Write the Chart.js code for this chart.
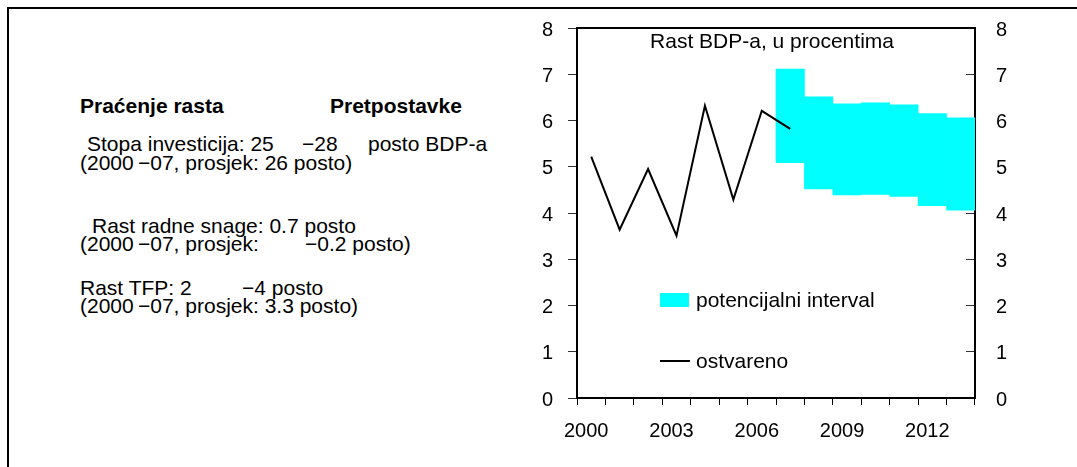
<!DOCTYPE html>
<html>
<head>
<meta charset="utf-8">
<script src="https://cdn.jsdelivr.net/npm/chart.js@4.4.1/dist/chart.umd.min.js"></script>
<style>
  body { margin: 0; background: #fff; width: 1077px; height: 467px; overflow: hidden; position: relative;
         font-family: "Liberation Sans", Arial, sans-serif; }
  #okvir { position: absolute; left: 7px; top: 7px; right: -10px; bottom: -10px;
           border-left: 2px solid #000; border-top: 2px solid #000; }
  #graf { position: absolute; left: 0; top: 0; }
  .t { position: absolute; font-size: 21px; line-height: 21px; white-space: pre; color: #000; }
  .b { font-weight: bold; }
</style>
</head>
<body>
<div id="okvir"></div>

<!-- lijevi tekst -->
<div class="t b" style="left:80px; top:95px;">Praćenje rasta</div>
<div class="t b" style="left:330px; top:95px;">Pretpostavke</div>

<div class="t" style="left:87px; top:133px;">Stopa investicija: 25</div>
<div class="t" style="left:302px; top:133px;">−28</div>
<div class="t" style="left:368px; top:133px;">posto BDP-a</div>
<div class="t" style="left:80px; top:152px;">(2000</div>
<div class="t" style="left:138px; top:152px;">−07, prosjek: 26 posto)</div>

<div class="t" style="left:92px; top:215px;">Rast radne snage: 0.7 posto</div>
<div class="t" style="left:80px; top:233px;">(2000</div>
<div class="t" style="left:138px; top:233px;">−07, prosjek:</div>
<div class="t" style="left:305px; top:233px;">−0.2 posto)</div>

<div class="t" style="left:80px; top:277px;">Rast TFP: 2</div>
<div class="t" style="left:242px; top:277px;">−4 posto</div>
<div class="t" style="left:80px; top:295px;">(2000</div>
<div class="t" style="left:138px; top:295px;">−07, prosjek: 3.3 posto)</div>

<canvas id="graf" width="1077" height="467"></canvas>

<script>
// podaci
const godine = ['2000', '2001', '2002', '2003', '2004', '2005', '2006', '2007', '2008', '2009', '2010', '2011', '2012', '2013'];
const ostvareno = [5.22, 3.64, 4.95, 3.51, 6.32, 4.29, 6.21, 5.82, null, null, null, null, null, null];
const intervalDonji = [null, null, null, null, null, null, null, 5.09, 4.52, 4.39, 4.40, 4.36, 4.16, 4.06];
const intervalGornji = [null, null, null, null, null, null, null, 7.11, 6.51, 6.36, 6.38, 6.34, 6.15, 6.06];
const oznakeX = ['2000', '2003', '2006', '2009', '2012'];
const naslov = 'Rast BDP-a, u procentima';

const intervali = godine.map((g, i) => intervalDonji[i] == null ? null : [intervalDonji[i], intervalGornji[i]]);

Chart.defaults.font.family = '"Liberation Sans", Arial, sans-serif';
Chart.defaults.font.size = 20;
Chart.defaults.color = '#000';

// naslov, legenda i gornji rub unutar grafa
const dodaci = {
    id: 'dodaci',
    afterDraw(chart) {
        const ctx = chart.ctx;
        const a = chart.chartArea;
        ctx.save();
        ctx.strokeStyle = '#000';
        ctx.lineWidth = 2;
        ctx.beginPath();
        ctx.moveTo(a.left, a.top);
        ctx.lineTo(a.right, a.top);
        ctx.stroke();

        ctx.fillStyle = '#000';
        ctx.font = '21px "Liberation Sans", Arial, sans-serif';
        ctx.textAlign = 'center';
        ctx.textBaseline = 'middle';
        ctx.fillText(naslov, (a.left + a.right) / 2 - 4, a.top + 14);

        // legenda
        ctx.textAlign = 'left';
        const bar = chart.data.datasets[0];
        const lin = chart.data.datasets[1];
        let y = a.bottom - 98;
        ctx.fillStyle = bar.backgroundColor;
        ctx.fillRect(a.left + 83, y - 7, 29, 14);
        ctx.fillStyle = '#000';
        ctx.fillText(bar.label, a.left + 119, y + 1);

        y = a.bottom - 37;
        ctx.strokeStyle = lin.borderColor;
        ctx.lineWidth = 2;
        ctx.beginPath();
        ctx.moveTo(a.left + 83, y);
        ctx.lineTo(a.left + 113, y);
        ctx.stroke();
        ctx.fillText(lin.label, a.left + 119, y + 1);
        ctx.restore();
    }
};

// osi: fiksna sirina i bez dodatnog razmaka iznad/ispod
function fiksnaSirina(w) {
    return s => {
        s.width = w;
        s.paddingTop = 0;
        s.paddingBottom = 0;
    };
}

new Chart(document.getElementById('graf'), {
    type: 'bar',
    data: {
        labels: godine,
        datasets: [{
            label: 'potencijalni interval',
            data: intervali,
            backgroundColor: '#00FFFF',
            borderWidth: 0,
            barPercentage: 1,
            categoryPercentage: 1,
            order: 1
        }, {
            type: 'line',
            label: 'ostvareno',
            data: ostvareno,
            borderColor: '#000',
            borderWidth: 2,
            pointRadius: 0,
            tension: 0,
            spanGaps: false,
            order: 0
        }]
    },
    options: {
        responsive: false,
        animation: false,
        layout: { padding: { left: 0, right: 0, top: 28, bottom: 0 } },
        plugins: { legend: { display: false }, tooltip: { enabled: false } },
        scales: {
            x: {
                offset: true,
                grid: { offset: true, drawOnChartArea: false, tickLength: 7, color: '#000' },
                border: { color: '#000', width: 2 },
                ticks: {
                    autoSkip: false, maxRotation: 0, padding: 14, labelOffset: -5,
                    callback: function (v) {
                        const g = this.getLabelForValue(v);
                        return oznakeX.includes(g) ? g : '';
                    }
                },
                afterFit: s => { s.height = 69; }
            },
            y: {
                position: 'left',
                min: 0, max: 8,
                ticks: { stepSize: 1, padding: 15, labelOffset: 2 },
                grid: { drawOnChartArea: false, tickLength: 9, color: '#333' },
                border: { color: '#000', width: 2 },
                afterFit: fiksnaSirina(577)
            },
            y2: {
                position: 'right',
                min: 0, max: 8,
                ticks: { stepSize: 1, padding: 30, labelOffset: 2 },
                grid: { drawOnChartArea: false, tickLength: -9, color: '#333' },
                border: { color: '#000', width: 2 },
                afterFit: fiksnaSirina(102)
            }
        }
    },
    plugins: [dodaci]
});
</script>
</body>
</html>
